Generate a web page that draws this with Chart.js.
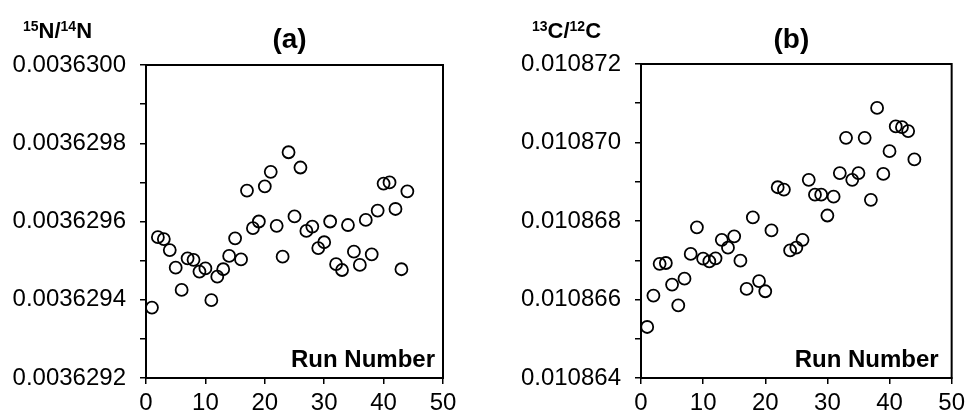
<!DOCTYPE html>
<html>
<head>
<meta charset="utf-8">
<script src="https://cdn.jsdelivr.net/npm/chart.js@4"></script>
<style>
  body { margin: 0; background: #fff; }
  #wrap { position: relative; width: 970px; height: 419px; }
  .box { position: absolute; top: 0; width: 485px; height: 419px; }
</style>
</head>
<body>
<div id="wrap">
  <div class="box" style="left:0"><canvas id="chartN"></canvas></div>
  <div class="box" style="left:485px"><canvas id="chartC"></canvas></div>
</div>
<script>
const runNumber = [1, 2, 3, 4, 5, 6, 7, 8, 9, 10, 11, 12, 13, 14, 15, 16, 17, 18, 19, 20, 21, 22,
  23, 24, 25, 26, 27, 28, 29, 30, 31, 32, 33, 34, 35, 36, 37, 38, 39, 40, 41, 42, 43, 44];

// (a) 15N/14N
const ratioN = [0.00362938, 0.00362956, 0.003629555, 0.003629527, 0.003629482, 0.003629425,
  0.003629506, 0.003629502, 0.003629472, 0.00362948, 0.003629399, 0.003629459,
  0.003629478, 0.003629512, 0.003629557, 0.003629503, 0.003629679, 0.003629583,
  0.0036296, 0.00362969, 0.003629727, 0.003629589, 0.00362951, 0.003629777,
  0.003629613, 0.003629738, 0.003629576, 0.003629587, 0.003629532, 0.003629547,
  0.0036296, 0.003629491, 0.003629476, 0.003629591, 0.003629523, 0.003629489,
  0.003629604, 0.003629516, 0.003629628, 0.003629697, 0.0036297, 0.003629632,
  0.003629478, 0.003629677];

// (b) 13C/12C
const ratioC = [0.0108653, 0.0108661, 0.01086691, 0.01086693, 0.01086638, 0.01086585,
  0.01086653, 0.01086716, 0.01086784, 0.01086704, 0.01086697, 0.01086705,
  0.01086752, 0.01086732, 0.01086761, 0.01086699, 0.01086627, 0.01086809,
  0.01086647, 0.01086621, 0.01086776, 0.01086886, 0.0108688, 0.01086725,
  0.01086732, 0.01086752, 0.01086905, 0.01086867, 0.01086867, 0.01086814,
  0.01086862, 0.01086922, 0.01087012, 0.01086905, 0.01086922, 0.01087012,
  0.01086854, 0.01087088, 0.0108692, 0.01086978, 0.01087041, 0.01087039,
  0.01087029, 0.01086957];

const tickValuesN = [0.0036292, 0.0036293, 0.0036294, 0.0036295, 0.0036296, 0.0036297, 0.0036298, 0.0036299, 0.00363];
const tickLabelsN = ['0.0036292', '', '0.0036294', '', '0.0036296', '', '0.0036298', '', '0.0036300'];
const tickValuesC = [0.010864, 0.010865, 0.010866, 0.010867, 0.010868, 0.010869, 0.01087, 0.010871, 0.010872];
const tickLabelsC = ['0.010864', '', '0.010866', '', '0.010868', '', '0.010870', '', '0.010872'];

const xLabel = 'Run Number';

Chart.defaults.font.family = "'Liberation Sans', Arial, sans-serif";
Chart.defaults.color = '#000';

// frame, panel letter, ratio label with superscripts, "Run Number"
function decor(title, labelParts, labelX, runGap) {
  return {
    id: 'decor',
    afterDraw(chart) {
      const ctx = chart.ctx;
      const a = chart.chartArea;
      ctx.save();
      ctx.strokeStyle = '#000';
      ctx.lineWidth = 2;
      ctx.strokeRect(a.left, a.top, a.right - a.left, a.bottom - a.top);

      ctx.fillStyle = '#000';
      ctx.textAlign = 'center';
      ctx.textBaseline = 'alphabetic';
      ctx.font = "bold 28px 'Liberation Sans', Arial, sans-serif";
      ctx.fillText(title, (a.left + a.right) / 2 - 5, 48);

      ctx.textAlign = 'left';
      let x = labelX;
      labelParts.forEach(function (p) {
        if (p.sup) {
          ctx.font = "bold 14px 'Liberation Sans', Arial, sans-serif";
          ctx.fillText(p.text, x, 31);
        } else {
          ctx.font = "bold 22px 'Liberation Sans', Arial, sans-serif";
          ctx.fillText(p.text, x, 38);
        }
        x += ctx.measureText(p.text).width;
      });

      ctx.textAlign = 'right';
      ctx.font = "bold 24px 'Liberation Sans', Arial, sans-serif";
      ctx.fillText(xLabel, a.right - runGap, a.bottom - 11);
      ctx.restore();
    }
  };
}

function makeChart(canvasId, values, tickValues, tickLabels, yWidth, pad, plugin) {
  return new Chart(document.getElementById(canvasId), {
    type: 'scatter',
    data: {
      datasets: [{
        data: runNumber.map(function (r, i) { return { x: r, y: values[i] }; }),
        pointRadius: 6,
        pointHoverRadius: 6,
        borderWidth: 1.8,
        borderColor: '#000',
        backgroundColor: 'rgba(0,0,0,0)',
        clip: false
      }]
    },
    options: {
      responsive: true,
      maintainAspectRatio: false,
      animation: false,
      layout: { padding: pad },
      plugins: { legend: { display: false }, tooltip: { enabled: false } },
      scales: {
        x: {
          type: 'linear',
          min: 0,
          max: 50,
          ticks: { stepSize: 10, padding: 5, font: { size: 24 }, color: '#000', maxRotation: 0 },
          grid: { drawOnChartArea: false, tickLength: 6, color: '#000', lineWidth: 1.5 },
          border: { color: '#000', width: 2 },
          afterFit: function (s) { s.height = 41; }
        },
        y: {
          min: tickValues[0],
          max: tickValues[tickValues.length - 1],
          afterBuildTicks: function (s) {
            s.ticks = tickValues.map(function (v) { return { value: v }; });
          },
          ticks: {
            padding: 14,
            font: { size: 24 },
            color: '#000',
            callback: function (v, i) { return tickLabels[i]; }
          },
          grid: { drawOnChartArea: false, tickLength: 6, color: '#000', lineWidth: 1.5 },
          border: { color: '#000', width: 2 },
          afterFit: function (s) { s.width = yWidth; }
        }
      }
    },
    plugins: [plugin]
  });
}

const chartN = makeChart('chartN', ratioN, tickValuesN, tickLabelsN, 146,
  { top: 65, right: 42, bottom: 0, left: 0 },
  decor('(a)', [{ text: '15', sup: true }, { text: 'N/' }, { text: '14', sup: true }, { text: 'N' }], 23, 8));

const chartC = makeChart('chartC', ratioC, tickValuesC, tickLabelsC, 156,
  { top: 64, right: 17, bottom: 0, left: 0 },
  decor('(b)', [{ text: '13', sup: true }, { text: 'C/' }, { text: '12', sup: true }, { text: 'C' }], 47, 13));
</script>
</body>
</html>
